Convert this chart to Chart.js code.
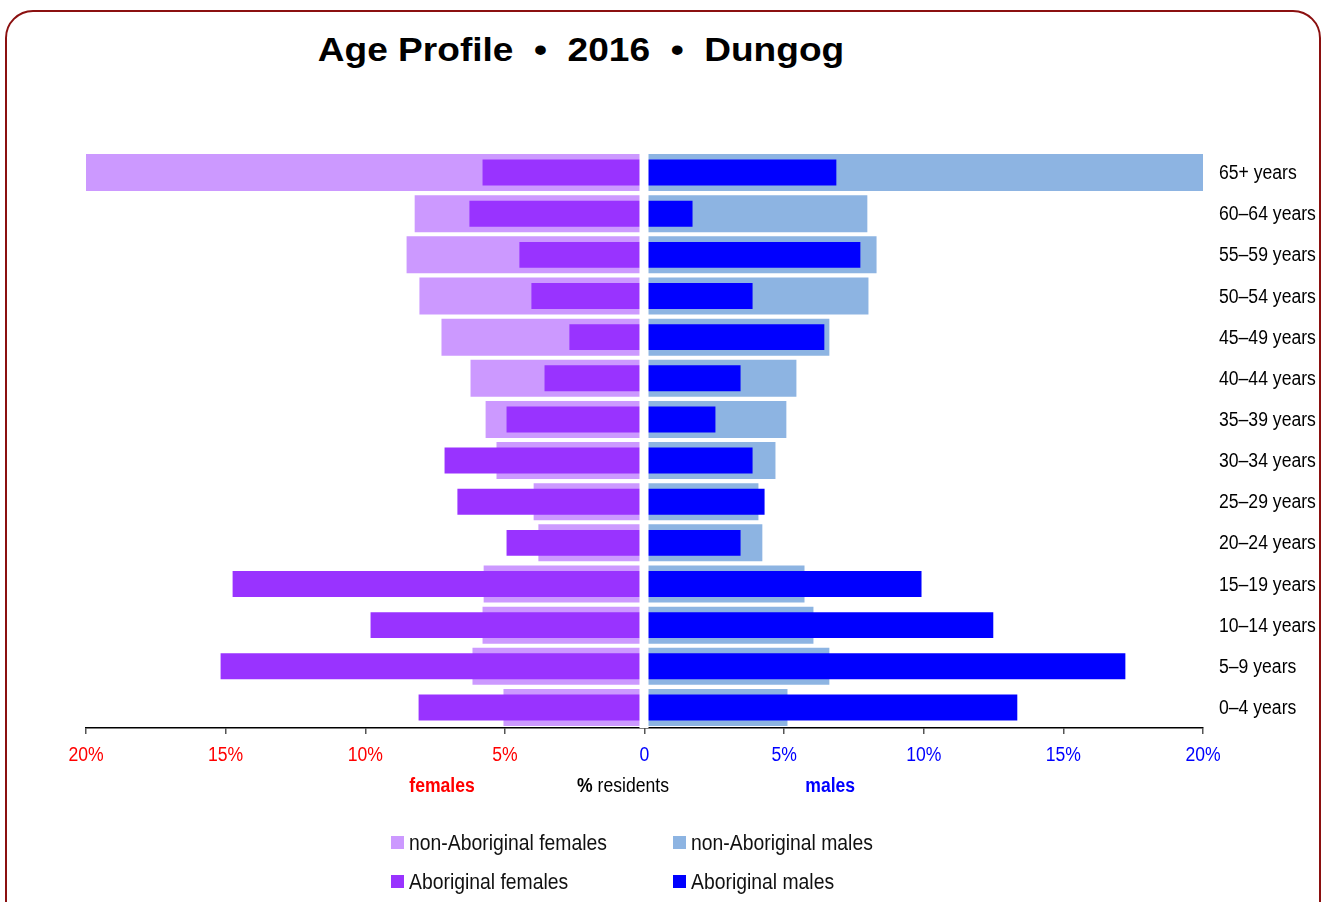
<!DOCTYPE html>
<html>
<head>
<meta charset="utf-8">
<script src="https://cdn.jsdelivr.net/npm/chart.js@4.4.1/dist/chart.umd.min.js"></script>
<style>
  html, body { margin: 0; padding: 0; background: #fff; overflow: hidden; }
  body { width: 1324px; height: 902px; position: relative; }
  #frame {
    position: absolute; left: 5px; top: 10px; width: 1312px; height: 940px;
    border: 2px solid #8b1010; border-radius: 28px; pointer-events: none;
  }
  #title {
    position: absolute; left: 0; top: 30px; width: 1162px; text-align: center;
    font: bold 34px "Liberation Sans", Arial, sans-serif; white-space: pre; color: #000;
    transform: scaleX(1.09); transform-origin: 581px 0;
  }
  canvas { position: absolute; left: 0; top: 0; }
  .leg {
    position: absolute; font: 22px "Liberation Sans", Arial, sans-serif;
    color: #111; white-space: nowrap; line-height: 24px;
  }
  .leg i { display: inline-block; width: 13px; height: 13px; margin-right: 5px; vertical-align: 1px; }
  .leg span { display: inline-block; transform: scaleX(0.88); transform-origin: 0 50%; }
</style>
</head>
<body>
<div id="title">Age Profile  •  2016  •  Dungog</div>
<canvas id="pyramid" width="1324" height="902"></canvas>
<div id="legend"></div>
<div id="frame"></div>
<script>
// Age groups, top to bottom
const ageGroups = [
  "65+ years", "60–64 years", "55–59 years", "50–54 years", "45–49 years",
  "40–44 years", "35–39 years", "30–34 years", "25–29 years", "20–24 years",
  "15–19 years", "10–14 years", "5–9 years", "0–4 years",
];

// % residents in each group
const nonAboriginalFemales = [20.0, 8.23, 8.52, 8.06, 7.27, 6.23, 5.69, 5.30, 3.97, 3.80, 5.76, 5.80, 6.16, 5.05];
const aboriginalFemales = [5.80, 6.27, 4.48, 4.05, 2.69, 3.58, 4.94, 7.16, 6.70, 4.94, 14.75, 9.81, 15.18, 8.09];
const nonAboriginalMales = [20.0, 7.98, 8.31, 8.02, 6.62, 5.44, 5.08, 4.69, 4.08, 4.22, 5.73, 6.05, 6.62, 5.12];
const aboriginalMales = [6.87, 1.72, 7.73, 3.87, 6.44, 3.44, 2.54, 3.87, 4.30, 3.44, 9.92, 12.49, 17.22, 13.35];

const xTicks = [-20, -15, -10, -5, 0, 5, 10, 15, 20];

const colors = {
  nonAbF: "#cc99ff",
  abF: "#9933ff",
  nonAbM: "#8db4e2",
  abM: "#0000ff",
};

const fontFamily = '"Liberation Sans", Arial, sans-serif';
const squeeze = 0.88; // narrow look of the original labels

// draw text squeezed horizontally
function narrowText(ctx, text, x, y, align, font, color) {
  ctx.save();
  ctx.translate(x, y);
  ctx.scale(squeeze, 1);
  ctx.font = font;
  ctx.fillStyle = color;
  ctx.textAlign = align;
  ctx.textBaseline = "middle";
  ctx.fillText(text, 0, 0);
  ctx.restore();
}

// white gap down the middle, tick labels and axis captions
const pyramidExtras = {
  id: "pyramidExtras",
  afterDatasetsDraw(chart) {
    const { ctx, chartArea, scales } = chart;
    const x0 = scales.x.getPixelForValue(0);
    ctx.save();
    ctx.fillStyle = "#fff";
    ctx.fillRect(x0 - 5, chartArea.top - 1, 9, chartArea.bottom - chartArea.top + 1);
    ctx.restore();
  },
  afterDraw(chart) {
    const { ctx, chartArea, scales } = chart;
    const reg = "20px " + fontFamily;
    const bold = "bold 20px " + fontFamily;

    // x tick labels
    xTicks.forEach((v) => {
      const label = v === 0 ? "0" : Math.abs(v) + "%";
      const color = v < 0 ? "#ff0000" : "#0000ff";
      narrowText(ctx, label, scales.x.getPixelForValue(v), chartArea.bottom + 27, "center", reg, color);
    });

    // age group labels on the right
    ageGroups.forEach((g, i) => {
      narrowText(ctx, g, chartArea.right + 16, scales.y.getPixelForValue(i) + 1, "left", reg, "#000");
    });

    // captions under the axis
    const y = 786;
    narrowText(ctx, "females", scales.x.getPixelForValue(-7.25), y, "center", bold, "#ff0000");
    narrowText(ctx, "males", scales.x.getPixelForValue(6.65), y, "center", bold, "#0000ff");

    ctx.save();
    ctx.font = bold;
    const w1 = ctx.measureText("%").width * squeeze;
    ctx.font = reg;
    const w2 = ctx.measureText(" residents").width * squeeze;
    ctx.restore();
    const x = scales.x.getPixelForValue(-0.77) - (w1 + w2) / 2;
    narrowText(ctx, "%", x, y, "left", bold, "#000");
    narrowText(ctx, " residents", x + w1, y, "left", reg, "#000");
  },
};

function initChart() {
  const ctx = document.getElementById("pyramid");

  const config = {
    type: "bar",
    data: {
      labels: ageGroups,
      datasets: [
        {
          label: "non-Aboriginal females",
          data: nonAboriginalFemales.map((v) => -v),
          backgroundColor: colors.nonAbF,
          barPercentage: 0.9,
          order: 2,
        },
        {
          label: "non-Aboriginal males",
          data: nonAboriginalMales,
          backgroundColor: colors.nonAbM,
          barPercentage: 0.9,
          order: 2,
        },
        {
          label: "Aboriginal females",
          data: aboriginalFemales.map((v) => -v),
          backgroundColor: colors.abF,
          barPercentage: 0.63,
          order: 1,
        },
        {
          label: "Aboriginal males",
          data: aboriginalMales,
          backgroundColor: colors.abM,
          barPercentage: 0.63,
          order: 1,
        },
      ],
    },
    options: {
      indexAxis: "y",
      responsive: false,
      animation: false,
      datasets: {
        bar: { grouped: false, categoryPercentage: 1, borderWidth: 0 },
      },
      layout: { padding: { left: 86, right: 0, top: 152, bottom: 124 } },
      plugins: {
        legend: { display: false },
      },
      scales: {
        x: {
          type: "linear",
          min: -20,
          max: 20,
          afterBuildTicks: (scale) => {
            scale.ticks = xTicks.map((v) => ({ value: v }));
          },
          afterFit: (scale) => {
            scale.height = 50;
          },
          grid: {
            drawOnChartArea: false,
            drawTicks: true,
            tickLength: 6,
            color: "#555",
            lineWidth: 1.5,
          },
          border: { display: true, color: "#000", width: 1.5 },
          ticks: { display: false },
        },
        y: {
          type: "category",
          position: "right",
          afterFit: (scale) => {
            scale.width = 121;
          },
          grid: { display: false, drawTicks: false },
          border: { display: false },
          ticks: { display: false },
        },
      },
    },
    plugins: [pyramidExtras],
  };

  return new Chart(ctx, config);
}

// legend laid out in a 2x2 grid
function buildLegend() {
  const items = [
    { text: "non-Aboriginal females", color: colors.nonAbF, x: 391, y: 831 },
    { text: "non-Aboriginal males", color: colors.nonAbM, x: 673, y: 831 },
    { text: "Aboriginal females", color: colors.abF, x: 391, y: 870 },
    { text: "Aboriginal males", color: colors.abM, x: 673, y: 870 },
  ];
  const holder = document.getElementById("legend");
  items.forEach((it) => {
    const div = document.createElement("div");
    div.className = "leg";
    div.style.left = it.x + "px";
    div.style.top = it.y + "px";
    div.innerHTML = `<i style="background:${it.color}"></i><span>${it.text}</span>`;
    holder.appendChild(div);
  });
}

buildLegend();
initChart();
</script>
</body>
</html>
